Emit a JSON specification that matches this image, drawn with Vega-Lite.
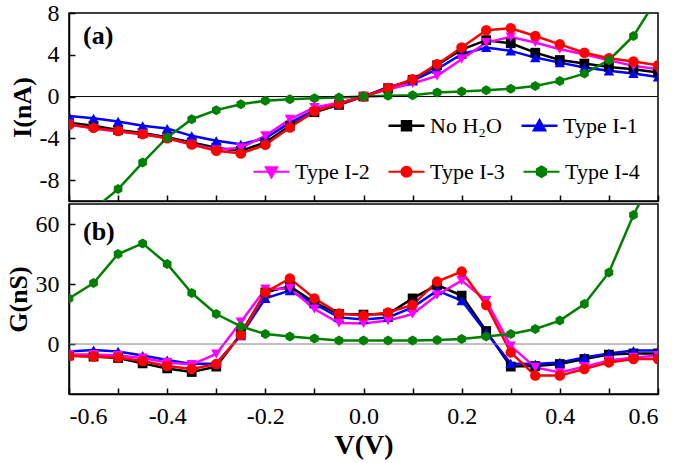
{
"$schema": "https://vega.github.io/schema/vega-lite/v6.json",
"padding": {"left": 4, "top": 0, "right": 5, "bottom": 3},
"config": {
 "font": "Liberation Serif",
 "view": {"stroke": "black", "strokeWidth": 1.5},
 "title": {"font": "Liberation Serif", "fontSize": 26, "fontWeight": "bold", "color": "black", "anchor": "start", "frame": "group", "offset": 0},
 "axis": {"grid": false, "domainColor": "black", "domainWidth": 1.5, "tickColor": "black", "tickWidth": 1.5, "tickSize": -6, "labelFontSize": 24, "labelColor": "black", "labelFont": "Liberation Serif", "titleFont": "Liberation Serif", "titleFontSize": 26, "titleFontWeight": "bold", "titleColor": "black", "labelPadding": 16, "labelOverlap": false},
 "legend": {"labelFont": "Liberation Serif", "labelFontSize": 22, "labelColor": "black", "symbolSize": 400, "labelOffset": 12, "columnPadding": 14, "direction": "horizontal", "title": null}
},
"data": {"values": [
{"V":-0.6,"s":"No H₂O","I":-2.5,"G":-5.8},{"V":-0.55,"s":"No H₂O","I":-2.8,"G":-6.3},{"V":-0.5,"s":"No H₂O","I":-3.2,"G":-7},{"V":-0.45,"s":"No H₂O","I":-3.5,"G":-9.7},{"V":-0.4,"s":"No H₂O","I":-3.9,"G":-12.2},{"V":-0.35,"s":"No H₂O","I":-4.4,"G":-14},{"V":-0.3,"s":"No H₂O","I":-4.9,"G":-11.3},{"V":-0.25,"s":"No H₂O","I":-5.2,"G":5},{"V":-0.2,"s":"No H₂O","I":-4.4,"G":25.8},{"V":-0.15,"s":"No H₂O","I":-2.8,"G":28.8},{"V":-0.1,"s":"No H₂O","I":-1.5,"G":20.7},{"V":-0.05,"s":"No H₂O","I":-0.8,"G":15},{"V":0,"s":"No H₂O","I":0,"G":14.7},{"V":0.05,"s":"No H₂O","I":0.8,"G":15},{"V":0.1,"s":"No H₂O","I":1.6,"G":22.8},{"V":0.15,"s":"No H₂O","I":3.0,"G":29.5},{"V":0.2,"s":"No H₂O","I":4.5,"G":24.2},{"V":0.25,"s":"No H₂O","I":5.4,"G":6.5},{"V":0.3,"s":"No H₂O","I":5.1,"G":-11.3},{"V":0.35,"s":"No H₂O","I":4.2,"G":-11},{"V":0.4,"s":"No H₂O","I":3.5,"G":-10},{"V":0.45,"s":"No H₂O","I":3.16,"G":-7.5},{"V":0.5,"s":"No H₂O","I":2.84,"G":-5.3},{"V":0.55,"s":"No H₂O","I":2.62,"G":-4.7},{"V":0.6,"s":"No H₂O","I":2.3,"G":-4.7},
{"V":-0.6,"s":"Type I-1","I":-1.86,"G":-3.7},{"V":-0.55,"s":"Type I-1","I":-2.07,"G":-3},{"V":-0.5,"s":"Type I-1","I":-2.38,"G":-3.7},{"V":-0.45,"s":"Type I-1","I":-2.8,"G":-5.8},{"V":-0.4,"s":"Type I-1","I":-3.06,"G":-8},{"V":-0.35,"s":"Type I-1","I":-3.76,"G":-10},{"V":-0.3,"s":"Type I-1","I":-4.24,"G":-9.7},{"V":-0.25,"s":"Type I-1","I":-4.56,"G":4.2},{"V":-0.2,"s":"Type I-1","I":-4.0,"G":22.8},{"V":-0.15,"s":"Type I-1","I":-2.5,"G":26.7},{"V":-0.1,"s":"Type I-1","I":-1.3,"G":20},{"V":-0.05,"s":"Type I-1","I":-0.7,"G":13.3},{"V":0,"s":"Type I-1","I":0,"G":12.3},{"V":0.05,"s":"Type I-1","I":0.93,"G":13.3},{"V":0.1,"s":"Type I-1","I":1.5,"G":18.3},{"V":0.15,"s":"Type I-1","I":2.62,"G":26.7},{"V":0.2,"s":"Type I-1","I":4.05,"G":21.7},{"V":0.25,"s":"Type I-1","I":4.69,"G":5.8},{"V":0.3,"s":"Type I-1","I":4.37,"G":-9.7},{"V":0.35,"s":"Type I-1","I":3.73,"G":-10},{"V":0.4,"s":"Type I-1","I":3.25,"G":-9.2},{"V":0.45,"s":"Type I-1","I":2.78,"G":-6.7},{"V":0.5,"s":"Type I-1","I":2.46,"G":-4.7},{"V":0.55,"s":"Type I-1","I":2.2,"G":-3.3},{"V":0.6,"s":"Type I-1","I":1.88,"G":-3.3},
{"V":-0.6,"s":"Type I-2","I":-2.64,"G":-5.3},{"V":-0.55,"s":"Type I-2","I":-3.06,"G":-5.3},{"V":-0.5,"s":"Type I-2","I":-3.35,"G":-5.8},{"V":-0.45,"s":"Type I-2","I":-3.6,"G":-7},{"V":-0.4,"s":"Type I-2","I":-3.98,"G":-9.2},{"V":-0.35,"s":"Type I-2","I":-4.56,"G":-10.3},{"V":-0.3,"s":"Type I-2","I":-5.1,"G":-5},{"V":-0.25,"s":"Type I-2","I":-4.9,"G":11},{"V":-0.2,"s":"Type I-2","I":-3.76,"G":27.5},{"V":-0.15,"s":"Type I-2","I":-2.17,"G":27.8},{"V":-0.1,"s":"Type I-2","I":-1.05,"G":17.5},{"V":-0.05,"s":"Type I-2","I":-0.6,"G":10.5},{"V":0,"s":"Type I-2","I":0,"G":10.3},{"V":0.05,"s":"Type I-2","I":0.7,"G":11.7},{"V":0.1,"s":"Type I-2","I":1.25,"G":15},{"V":0.15,"s":"Type I-2","I":1.98,"G":24.5},{"V":0.2,"s":"Type I-2","I":3.58,"G":31.7},{"V":0.25,"s":"Type I-2","I":5.17,"G":21.7},{"V":0.3,"s":"Type I-2","I":5.71,"G":-1},{"V":0.35,"s":"Type I-2","I":5.17,"G":-11.7},{"V":0.4,"s":"Type I-2","I":4.53,"G":-14.2},{"V":0.45,"s":"Type I-2","I":4.05,"G":-11.3},{"V":0.5,"s":"Type I-2","I":3.48,"G":-8.3},{"V":0.55,"s":"Type I-2","I":2.94,"G":-6.7},{"V":0.6,"s":"Type I-2","I":2.62,"G":-5.8},
{"V":-0.6,"s":"Type I-3","I":-2.7,"G":-6},{"V":-0.55,"s":"Type I-3","I":-3.0,"G":-6.3},{"V":-0.5,"s":"Type I-3","I":-3.3,"G":-6.8},{"V":-0.45,"s":"Type I-3","I":-3.6,"G":-8.5},{"V":-0.4,"s":"Type I-3","I":-4.0,"G":-11},{"V":-0.35,"s":"Type I-3","I":-4.6,"G":-12.5},{"V":-0.3,"s":"Type I-3","I":-5.2,"G":-10},{"V":-0.25,"s":"Type I-3","I":-5.45,"G":4.5},{"V":-0.2,"s":"Type I-3","I":-4.62,"G":25.8},{"V":-0.15,"s":"Type I-3","I":-2.97,"G":32.8},{"V":-0.1,"s":"Type I-3","I":-1.4,"G":22.8},{"V":-0.05,"s":"Type I-3","I":-0.7,"G":15.3},{"V":0,"s":"Type I-3","I":0,"G":14.2},{"V":0.05,"s":"Type I-3","I":0.8,"G":15.8},{"V":0.1,"s":"Type I-3","I":1.66,"G":19.5},{"V":0.15,"s":"Type I-3","I":3.1,"G":31.2},{"V":0.2,"s":"Type I-3","I":4.69,"G":36.2},{"V":0.25,"s":"Type I-3","I":6.35,"G":19.5},{"V":0.3,"s":"Type I-3","I":6.54,"G":-4.2},{"V":0.35,"s":"Type I-3","I":5.8,"G":-15.8},{"V":0.4,"s":"Type I-3","I":5.0,"G":-15.8},{"V":0.45,"s":"Type I-3","I":4.2,"G":-12.5},{"V":0.5,"s":"Type I-3","I":3.67,"G":-9.2},{"V":0.55,"s":"Type I-3","I":3.35,"G":-7.5},{"V":0.6,"s":"Type I-3","I":3.0,"G":-7.5},
{"V":-0.6,"s":"Type I-4","I":-12.1,"G":22.8},{"V":-0.55,"s":"Type I-4","I":-10.8,"G":30.5},{"V":-0.5,"s":"Type I-4","I":-8.86,"G":45},{"V":-0.45,"s":"Type I-4","I":-6.32,"G":50.3},{"V":-0.4,"s":"Type I-4","I":-3.92,"G":40},{"V":-0.35,"s":"Type I-4","I":-2.17,"G":25.5},{"V":-0.3,"s":"Type I-4","I":-1.3,"G":15},{"V":-0.25,"s":"Type I-4","I":-0.73,"G":8.8},{"V":-0.2,"s":"Type I-4","I":-0.41,"G":5},{"V":-0.15,"s":"Type I-4","I":-0.25,"G":3.7},{"V":-0.1,"s":"Type I-4","I":-0.16,"G":2.8},{"V":-0.05,"s":"Type I-4","I":-0.1,"G":1.8},{"V":0,"s":"Type I-4","I":0,"G":1.7},{"V":0.05,"s":"Type I-4","I":0.07,"G":1.7},{"V":0.1,"s":"Type I-4","I":0.13,"G":1.7},{"V":0.15,"s":"Type I-4","I":0.38,"G":2},{"V":0.2,"s":"Type I-4","I":0.48,"G":2.5},{"V":0.25,"s":"Type I-4","I":0.61,"G":3.8},{"V":0.3,"s":"Type I-4","I":0.74,"G":5},{"V":0.35,"s":"Type I-4","I":1.02,"G":7.5},{"V":0.4,"s":"Type I-4","I":1.5,"G":11.7},{"V":0.45,"s":"Type I-4","I":2.2,"G":20},{"V":0.5,"s":"Type I-4","I":3.48,"G":35.8},{"V":0.55,"s":"Type I-4","I":5.8,"G":64.5},{"V":0.6,"s":"Type I-4","I":9.5,"G":88}
]},
"spacing": 0,
"resolve": {"scale": {"color": "independent", "opacity": "independent", "strokeWidth": "independent"}, "legend": {"color": "independent", "opacity": "independent"}},
"vconcat": [
 {
  "width": 589, "height": 188,
  "title": {"text": "(a)", "dx": 14, "dy": 52},
  "layer": [
   {"mark": {"type": "line", "clip": true},
    "encoding": {
     "x": {"field": "V", "type": "quantitative", "scale": {"domain": [-0.6, 0.6], "nice": false}, "axis": {"values": [-0.6,-0.5,-0.4,-0.3,-0.2,-0.1,0,0.1,0.2,0.3,0.4,0.5,0.6], "labels": false, "title": null}},
     "y": {"field": "I", "type": "quantitative", "scale": {"domain": [-10, 8], "nice": false, "zero": false}, "axis": {"values": [-8,-4,0,4,8], "title": "I(nA)", "titlePadding": 4, "labelExpr": "replace(datum.label, '−', '-')"}},
     "color": {"field": "s", "type": "nominal", "scale": {"domain": ["No H₂O","Type I-1","Type I-2","Type I-3","Type I-4"], "range": ["#000000","#0000ff","#ff00ff","#ff0000","#008000"]},
      "legend": {"orient": "none", "legendX": 326, "legendY": 101, "values": ["No H₂O","Type I-1"],
       "encode": {"symbols": {"update": {
        "shape": {"signal": "datum.value == 'No H₂O' ? 'M-1.8,0H1.8M-0.45,-0.45H0.45V0.45H-0.45Z' : 'M-1.8,0H1.8M0,-0.55L0.55,0.45L-0.55,0.45Z'"},
        "fill": {"signal": "datum.value == 'No H₂O' ? '#000000' : '#0000ff'"},
        "stroke": {"signal": "datum.value == 'No H₂O' ? '#000000' : '#0000ff'"},
        "strokeWidth": {"value": 2.2}, "opacity": {"value": 1}, "fillOpacity": {"value": 1}, "strokeOpacity": {"value": 1}}}}}},
     "opacity": {"field": "s", "type": "nominal", "scale": {"domain": ["No H₂O","Type I-1","Type I-2","Type I-3","Type I-4"], "range": [1,1,1,1,1]},
      "legend": {"orient": "bottom-right", "offset": 18, "values": ["Type I-2","Type I-3","Type I-4"],
       "encode": {"symbols": {"update": {
        "shape": {"signal": "datum.value == 'Type I-2' ? 'M-1.8,0H1.8M0,0.55L0.55,-0.45L-0.55,-0.45Z' : (datum.value == 'Type I-3' ? 'M-1.8,0H1.8M-0.5,0A0.5,0.5 0 1,0 0.5,0A0.5,0.5 0 1,0 -0.5,0Z' : 'M-1.8,0H1.8M0,-0.52L0.45,-0.26L0.45,0.26L0,0.52L-0.45,0.26L-0.45,-0.26Z')"},
        "fill": {"signal": "datum.value == 'Type I-2' ? '#ff00ff' : (datum.value == 'Type I-3' ? '#ff0000' : '#008000')"},
        "stroke": {"signal": "datum.value == 'Type I-2' ? '#ff00ff' : (datum.value == 'Type I-3' ? '#ff0000' : '#008000')"},
        "strokeWidth": {"value": 2.2}, "opacity": {"value": 1}, "fillOpacity": {"value": 1}, "strokeOpacity": {"value": 1}}}}}},
     "strokeWidth": {"field": "s", "type": "nominal", "scale": {"domain": ["No H₂O","Type I-1","Type I-2","Type I-3","Type I-4"], "range": [2.5,2.5,2.5,2.5,1.6]}, "legend": null}
    }},
   {"data": {"values": [{"z": 0}]}, "mark": {"type": "rule", "color": "black", "strokeWidth": 1}, "encoding": {"y": {"field": "z", "type": "quantitative"}}},
   {"transform": [{"filter": {"field": "s", "equal": "No H₂O"}}], "mark": {"type": "point", "filled": true, "opacity": 1, "size": 95, "shape": "square", "color": "#000000", "clip": true}, "encoding": {"x": {"field": "V", "type": "quantitative"}, "y": {"field": "I", "type": "quantitative"}}},
   {"transform": [{"filter": {"field": "s", "equal": "Type I-1"}}], "mark": {"type": "point", "filled": true, "opacity": 1, "size": 110, "shape": "triangle-up", "color": "#0000ff", "clip": true}, "encoding": {"x": {"field": "V", "type": "quantitative"}, "y": {"field": "I", "type": "quantitative"}}},
   {"transform": [{"filter": {"field": "s", "equal": "Type I-2"}}], "mark": {"type": "point", "filled": true, "opacity": 1, "size": 110, "shape": "triangle-down", "color": "#ff00ff", "clip": true}, "encoding": {"x": {"field": "V", "type": "quantitative"}, "y": {"field": "I", "type": "quantitative"}}},
   {"transform": [{"filter": {"field": "s", "equal": "Type I-3"}}], "mark": {"type": "point", "filled": true, "opacity": 1, "size": 110, "shape": "circle", "color": "#ff0000", "clip": true}, "encoding": {"x": {"field": "V", "type": "quantitative"}, "y": {"field": "I", "type": "quantitative"}}},
   {"transform": [{"filter": {"field": "s", "equal": "Type I-4"}}], "mark": {"type": "point", "filled": true, "opacity": 1, "size": 100, "shape": "M0,-1L0.866,-0.5L0.866,0.5L0,1L-0.866,0.5L-0.866,-0.5Z", "color": "#008000", "clip": true}, "encoding": {"x": {"field": "V", "type": "quantitative"}, "y": {"field": "I", "type": "quantitative"}}}
  ]
 },
 {
  "width": 589, "height": 190,
  "title": {"text": "(b)", "dx": 14, "dy": 45},
  "layer": [
   {"mark": {"type": "line", "clip": true},
    "encoding": {
     "x": {"field": "V", "type": "quantitative", "scale": {"domain": [-0.6, 0.6], "nice": false}, "axis": {"values": [-0.6,-0.5,-0.4,-0.3,-0.2,-0.1,0,0.1,0.2,0.3,0.4,0.5,0.6], "labelExpr": "datum.value == 0 ? '0.0' : (abs(round(datum.value*10)) % 2 == 0 ? replace(datum.label, '−', '-') : '')", "title": "V(V)", "titleFontSize": 28, "titlePadding": 3}},
     "y": {"field": "G", "type": "quantitative", "scale": {"domain": [-25, 70], "nice": false, "zero": false}, "axis": {"values": [0,30,60], "labelExpr": "replace(datum.label, '−', '-')", "title": "G(nS)", "titlePadding": 4}},
     "color": {"field": "s", "type": "nominal", "scale": {"domain": ["No H₂O","Type I-1","Type I-2","Type I-3","Type I-4"], "range": ["#000000","#0000ff","#ff00ff","#ff0000","#008000"]}, "legend": null},
     "strokeWidth": {"field": "s", "type": "nominal", "scale": {"domain": ["No H₂O","Type I-1","Type I-2","Type I-3","Type I-4"], "range": [2.5,2.5,2.5,2.5,1.6]}, "legend": null}
    }},
   {"data": {"values": [{"z": 0}]}, "mark": {"type": "rule", "color": "#808080", "strokeWidth": 1}, "encoding": {"y": {"field": "z", "type": "quantitative"}}},
   {"transform": [{"filter": {"field": "s", "equal": "No H₂O"}}], "mark": {"type": "point", "filled": true, "opacity": 1, "size": 95, "shape": "square", "color": "#000000", "clip": true}, "encoding": {"x": {"field": "V", "type": "quantitative"}, "y": {"field": "G", "type": "quantitative"}}},
   {"transform": [{"filter": {"field": "s", "equal": "Type I-1"}}], "mark": {"type": "point", "filled": true, "opacity": 1, "size": 110, "shape": "triangle-up", "color": "#0000ff", "clip": true}, "encoding": {"x": {"field": "V", "type": "quantitative"}, "y": {"field": "G", "type": "quantitative"}}},
   {"transform": [{"filter": {"field": "s", "equal": "Type I-2"}}], "mark": {"type": "point", "filled": true, "opacity": 1, "size": 110, "shape": "triangle-down", "color": "#ff00ff", "clip": true}, "encoding": {"x": {"field": "V", "type": "quantitative"}, "y": {"field": "G", "type": "quantitative"}}},
   {"transform": [{"filter": {"field": "s", "equal": "Type I-3"}}], "mark": {"type": "point", "filled": true, "opacity": 1, "size": 110, "shape": "circle", "color": "#ff0000", "clip": true}, "encoding": {"x": {"field": "V", "type": "quantitative"}, "y": {"field": "G", "type": "quantitative"}}},
   {"transform": [{"filter": {"field": "s", "equal": "Type I-4"}}], "mark": {"type": "point", "filled": true, "opacity": 1, "size": 100, "shape": "M0,-1L0.866,-0.5L0.866,0.5L0,1L-0.866,0.5L-0.866,-0.5Z", "color": "#008000", "clip": true}, "encoding": {"x": {"field": "V", "type": "quantitative"}, "y": {"field": "G", "type": "quantitative"}}}
  ]
 }
]
}
